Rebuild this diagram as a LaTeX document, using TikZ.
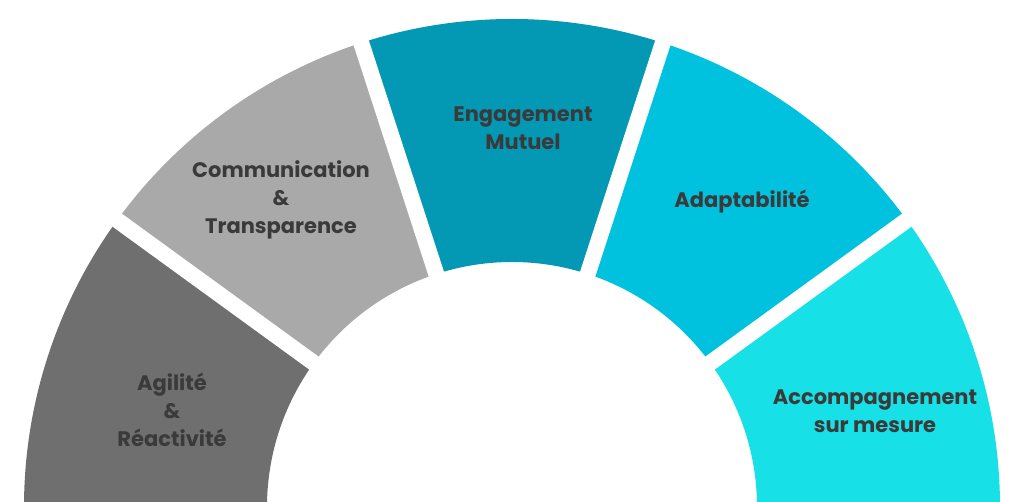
\documentclass[tikz,border=0pt]{standalone}
\usepackage{fontspec}
\setmainfont{Poppins}
\definecolor{c1}{HTML}{6F6F6F}
\definecolor{c2}{HTML}{A9A9A9}
\definecolor{c3}{HTML}{0399B5}
\definecolor{c4}{HTML}{00C2DF}
\definecolor{c5}{HTML}{17E0E6}
\definecolor{tx}{HTML}{3A3A3A}
\begin{document}
\begin{tikzpicture}[x=1pt,y=1pt,
  lbl/.style={text=tx,font=\fontsize{21}{28}\selectfont\bfseries,align=center},
  gap/.style={white,line width=16pt}]
\useasboundingbox (0,0) rectangle (1024,502);
\clip (0,0) rectangle (1024,502);
\fill[white] (0,0) rectangle (1024,502);
\coordinate (O) at (512,-5);
\foreach \a/\c in {144/c1,108/c2,72/c3,36/c4,0/c5}{
  \fill[\c] ([shift={(\a:488)}]O) arc[start angle=\a,end angle=\a+36,radius=488]
    -- ([shift={(\a+36:245)}]O) arc[start angle=\a+36,end angle=\a,radius=245] -- cycle;
}
\fill[c1] (24,-5) rectangle (267,0);
\foreach \a in {36,72,108,144}{
  \draw[gap] (O) -- ++(\a:520);
}
\node[lbl] (n1) at (172,92) {Agilité\\\&\\Réactivité};
\node[lbl] (n2) at (281,302) {Communication\\\&\\Transparence};
\node[lbl] (n3) at (523,374) {Engagement\\Mutuel};
\node[lbl] (n4) at (742,300) {Adaptabilité};
\node[lbl] (n5) at (875,91) {Accompagnement\\sur mesure};
\end{tikzpicture}
\end{document}
